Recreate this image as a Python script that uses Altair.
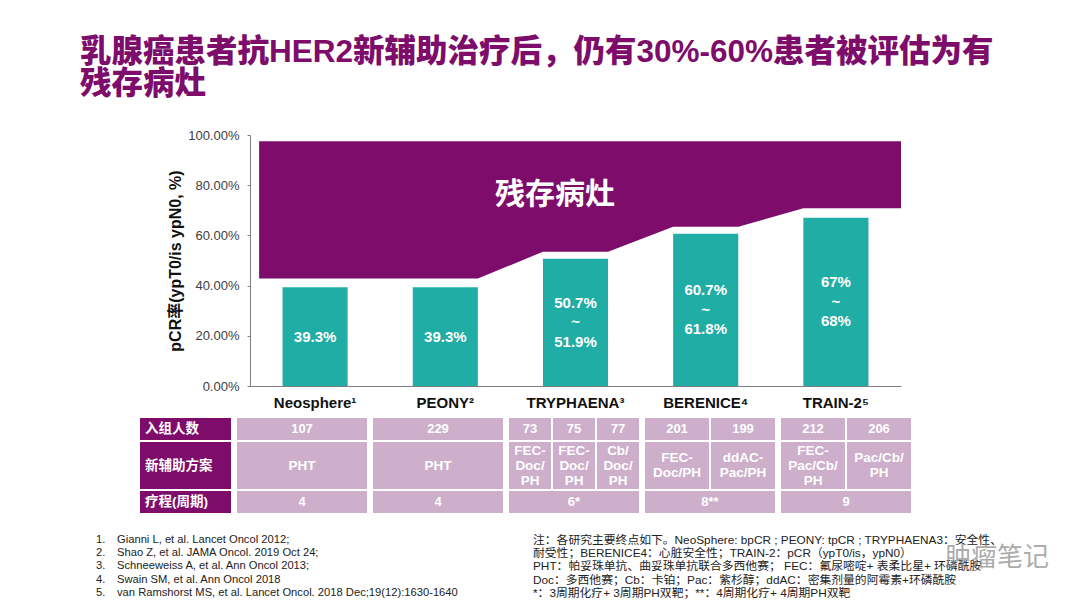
import altair as alt
import pandas as pd

# ------------------------------------------------------------------ data
studies = ["Neosphere", "PEONY", "TRYPHAENA", "BERENICE", "TRAIN-2"]
study_refs = ["¹", "²", "³", "⁴", "⁵"]
pcr_low = [39.3, 39.3, 50.7, 60.7, 67.0]
pcr_labels = ["39.3%", "39.3%", "50.7%\n~\n51.9%", "60.7%\n~\n61.8%", "67%\n~\n68%"]
residual_floor = [42.8, 42.8, 53.5, 63.4, 70.8]
residual_ceiling = 97.5
y_ticks = [0, 20, 40, 60, 80, 100]

arm_study_idx = [0, 1, 2, 2, 2, 3, 3, 4, 4]
arm_n = ["107", "229", "73", "75", "77", "201", "199", "212", "206"]
arm_regimen = ["PHT", "PHT", "FEC-\nDoc/\nPH", "FEC-\nDoc/\nPH", "Cb/\nDoc/\nPH",
               "FEC-\nDoc/PH", "ddAC-\nPac/PH", "FEC-\nPac/Cb/\nPH", "Pac/Cb/\nPH"]
study_cycles = ["4", "4", "6*", "8**", "9"]
row_headers = ["入组人数", "新辅助方案", "疗程(周期)"]

title_lines = ["乳腺癌患者抗HER2新辅助治疗后，仍有30%-60%患者被评估为有", "残存病灶"]
area_label = "残存病灶"
y_title = "pCR率(ypT0/is ypN0, %)"
ref_numbers = ["1.", "2.", "3.", "4.", "5."]
references = [
    "Gianni L, et al. Lancet Oncol 2012;",
    "Shao Z, et al. JAMA Oncol. 2019 Oct 24;",
    "Schneeweiss A, et al. Ann Oncol 2013;",
    "Swain SM, et al. Ann Oncol 2018",
    "van Ramshorst MS, et al. Lancet Oncol. 2018 Dec;19(12):1630-1640",
]
notes = [
    "注：各研究主要终点如下。NeoSphere: bpCR ; PEONY: tpCR ; TRYPHAENA3：安全性、",
    "耐受性；BERENICE4：心脏安全性；TRAIN-2：pCR（ypT0/is，ypN0）",
    "PHT：帕妥珠单抗、曲妥珠单抗联合多西他赛；  FEC：氟尿嘧啶+ 表柔比星+ 环磷酰胺",
    "Doc：多西他赛；Cb：卡铂；Pac：紫杉醇；ddAC：密集剂量的阿霉素+环磷酰胺",
    "*：3周期化疗+ 3周期PH双靶；**：4周期化疗+ 4周期PH双靶",
]
watermark = "肿瘤笔记"

# ------------------------------------------------------------------ layout / style
PURPLE = "#7D0C6B"
TEAL = "#20ADA5"
CELL = "#CDAECB"
FONT = "Liberation Sans, Arial, Noto Sans CJK SC"
CJK = "Noto Sans CJK SC"

PLOT_LEFT, PLOT_TOP = 250, 135      # page coordinates of the plot origin
W, H = 651, 251
TOTAL_W, TOTAL_H = 1064, 591
PAD = {"left": PLOT_LEFT - 8, "top": PLOT_TOP - 8,
       "right": TOTAL_W - (PLOT_LEFT - 8) - W, "bottom": TOTAL_H - (PLOT_TOP - 8) - H}


def rx(px):
    return px - PLOT_LEFT


def ry(py):
    return py - PLOT_TOP


BAR_HALF = 0.25
AREA_START, AREA_END = 0.07, 5.0
TABLE_X0, TABLE_STEP = 237, 136          # table group columns (page px)
GROUP_W = 130 / TABLE_STEP
SUB_GAP = 2 / TABLE_STEP
HEADER_X = (-97 / TABLE_STEP, -6 / TABLE_STEP)
ROWS = [(418, 440), (442, 489), (491, 513)]

xs = alt.Scale(domain=[0, 5], nice=False, zero=False)
ys = alt.Scale(domain=[0, 100], nice=False, zero=False)
ts = alt.Scale(domain=[0, 5], nice=False, zero=False,
               range=[rx(TABLE_X0), rx(TABLE_X0) + 5 * TABLE_STEP])
yaxis = alt.Axis(values=y_ticks, grid=False, title=y_title,
                 labelExpr="format(datum.value, '.2f') + '%'",
                 labelFont=FONT, labelFontSize=13, labelColor="#404040",
                 labelPadding=8, tickSize=3, tickColor="#7f7f7f",
                 domainColor="#7f7f7f", titleFont=FONT, titleFontSize=16,
                 titleFontWeight="bold", titleColor="#111111", titlePadding=4)

n = len(studies)
idx = list(range(n))

# ------------------------------------------------------------------ frames
bars_df = pd.DataFrame({
    "study": studies,
    "x0": [i + 0.5 - BAR_HALF for i in idx],
    "x1": [i + 0.5 + BAR_HALF for i in idx],
    "xc": [i + 0.5 for i in idx],
    "pcr": pcr_low,
    "mid": [v / 2 for v in pcr_low],
    "label": pcr_labels,
    "name": [s + r for s, r in zip(studies, study_refs)],
})

ax, ay = [AREA_START], [residual_floor[0]]
for i in idx:
    ax += [i + 0.5 - BAR_HALF, i + 0.5 + BAR_HALF]
    ay += [residual_floor[i], residual_floor[i]]
ax.append(AREA_END)
ay.append(residual_floor[-1])
area_df = pd.DataFrame({"ax": ax, "lo": ay, "hi": [residual_ceiling] * len(ax)})

arm_rows = []
counts = {i: arm_study_idx.count(i) for i in idx}
seen = {i: 0 for i in idx}
for a, g in enumerate(arm_study_idx):
    k = counts[g]
    j = seen[g]
    seen[g] += 1
    sw = (GROUP_W - (k - 1) * SUB_GAP) / k
    x0 = g + j * (sw + SUB_GAP)
    arm_rows.append({"x0": x0, "x1": x0 + sw, "xc": x0 + sw / 2,
                     "n": arm_n[a], "reg": arm_regimen[a]})
arms_df = pd.DataFrame(arm_rows)
groups_df = pd.DataFrame({"x0": idx, "x1": [i + GROUP_W for i in idx],
                          "xc": [i + GROUP_W / 2 for i in idx], "cyc": study_cycles})
header_df = pd.DataFrame({"x0": [HEADER_X[0]], "x1": [HEADER_X[1]],
                          "xt": [HEADER_X[0] + 5 / TABLE_STEP]})


def nlines(s):
    return s.count("\n") + 1


# ------------------------------------------------------------------ layers
area = alt.Chart(area_df).mark_area(color=PURPLE, fill=PURPLE, opacity=1,
                                    interpolate="linear", orient="vertical").encode(
    x=alt.X("ax:Q", scale=xs, axis=None),
    y=alt.Y("lo:Q", scale=ys, axis=yaxis, stack=None),
    y2="hi:Q",
)

bars = alt.Chart(bars_df).mark_rect(color=TEAL).encode(
    x=alt.X("x0:Q", scale=xs,
            axis=alt.Axis(labels=False, ticks=False, title=None, grid=False,
                          domainColor="#7f7f7f", domainWidth=1)),
    x2="x1:Q",
    y=alt.Y("pcr:Q", scale=ys, axis=yaxis),
    y2=alt.datum(0),
)

LH_BAR = 19.5
bar_text_layers = []
for k in sorted({nlines(s) for s in pcr_labels}):
    sub = bars_df[bars_df["label"].map(nlines) == k]
    bar_text_layers.append(
        alt.Chart(sub).mark_text(color="white", font=FONT, fontSize=15, fontWeight="bold",
                                 lineBreak="\n", lineHeight=LH_BAR, baseline="middle",
                                 dy=-(k - 1) * LH_BAR / 2).encode(
            x=alt.X("xc:Q", scale=xs, axis=None),
            y=alt.Y("mid:Q", scale=ys, axis=yaxis),
            text="label:N",
        ))

study_text = alt.Chart(bars_df).mark_text(color="#111111", font=FONT, fontSize=15,
                                         fontWeight="bold", baseline="middle").encode(
    x=alt.X("xc:Q", scale=xs, axis=None),
    y=alt.value(ry(403)),
    text="name:N",
)

area_text = alt.Chart(pd.DataFrame({"t": [area_label]})).mark_text(
    color="white", font=CJK, fontSize=30, fontWeight="bold", baseline="middle"
).encode(x=alt.value(rx(555)), y=alt.value(ry(195)), text="t:N")


def table_rects(df, row, color):
    top, bot = ROWS[row]
    return alt.Chart(df).mark_rect(color=color).encode(
        x=alt.X("x0:Q", scale=ts, axis=None), x2="x1:Q",
        y=alt.value(ry(top)), y2=alt.value(ry(bot)))


def table_text(df, row, field, size=13, line_h=15):
    top, bot = ROWS[row]
    layers = []
    for k in sorted({nlines(s) for s in df[field]}):
        sub = df[df[field].map(nlines) == k]
        layers.append(alt.Chart(sub).mark_text(
            color="white", font=FONT, fontSize=size, fontWeight="bold",
            lineBreak="\n", lineHeight=line_h, baseline="middle",
            dy=-(k - 1) * line_h / 2
        ).encode(x=alt.X("xc:Q", scale=ts, axis=None),
                 y=alt.value(ry((top + bot) / 2)), text=f"{field}:N"))
    return layers


table_layers = [
    table_rects(arms_df, 0, CELL), table_rects(arms_df, 1, CELL),
    table_rects(groups_df, 2, CELL),
    *table_text(arms_df, 0, "n"), *table_text(arms_df, 1, "reg", size=13.5),
    *table_text(groups_df, 2, "cyc"),
]
for r, h in enumerate(row_headers):
    table_layers.append(table_rects(header_df, r, PURPLE))
    top, bot = ROWS[r]
    table_layers.append(
        alt.Chart(header_df.assign(t=h)).mark_text(
            color="white", font=FONT, fontSize=13.5, fontWeight="bold",
            align="left", baseline="middle"
        ).encode(x=alt.X("xt:Q", scale=ts, axis=None),
                 y=alt.value(ry((top + bot) / 2)), text="t:N"))


def block(text_lines, px, py_first, size, line_h, color="#222222", weight="normal",
          font=FONT, opacity=1.0):
    return alt.Chart(pd.DataFrame({"t": ["\n".join(text_lines)]})).mark_text(
        color=color, font=font, fontSize=size, fontWeight=weight, align="left",
        baseline="middle", lineBreak="\n", lineHeight=line_h, opacity=opacity
    ).encode(x=alt.value(rx(px)), y=alt.value(ry(py_first)), text="t:N")


title = block(title_lines, 80, 53, 31.5, 31.5, color=PURPLE, weight=900)
refs_num = block(ref_numbers, 96, 540, 11.2, 13.2)
refs = block(references, 117, 540, 11.2, 13.2)
note_block = block(notes, 533, 540, 11.8, 13.2)
wm = block([watermark], 945, 558, 26, 26, color="#8a8a8a", font=CJK, opacity=0.7)

chart = alt.layer(
    area, bars, *bar_text_layers, study_text, area_text, *table_layers,
    title, refs_num, refs, note_block, wm,
).resolve_scale(x="independent").properties(
    width=W, height=H, padding=PAD,
    autosize=alt.AutoSizeParams(type="none"),
    background="white",
).configure_view(stroke=None)

chart.save("out.html", embed_options={"renderer": "svg", "actions": False})
